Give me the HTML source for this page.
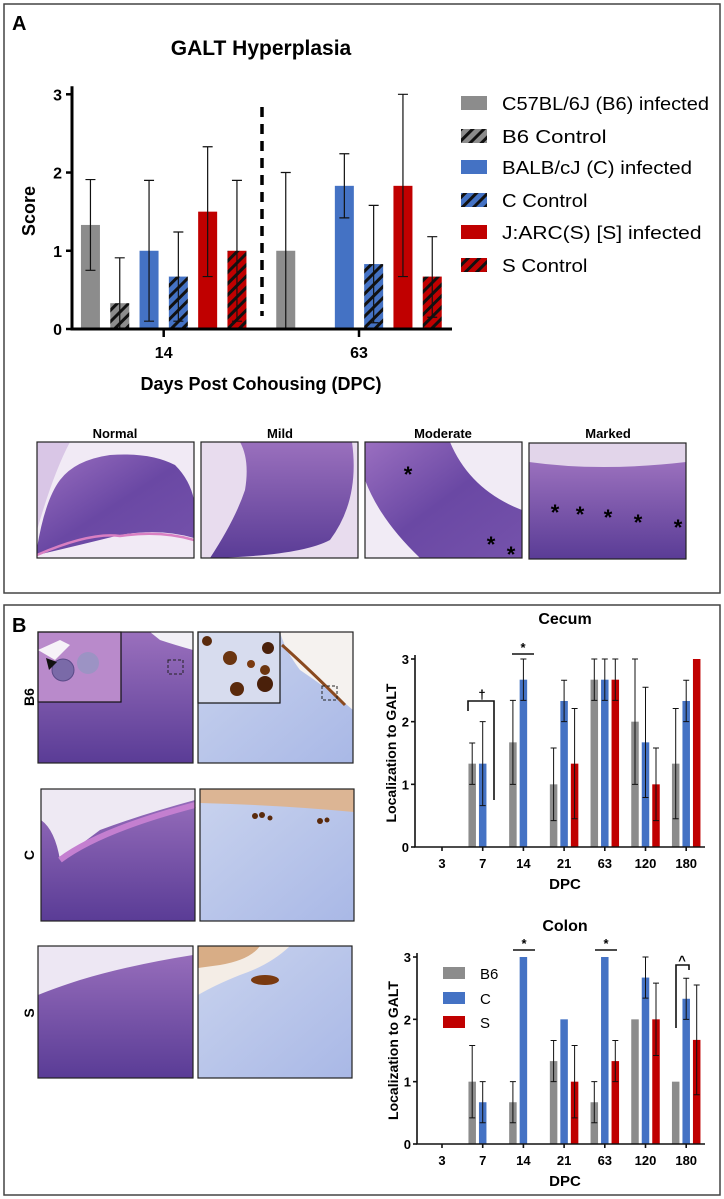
<!DOCTYPE html>
<html><head><meta charset="utf-8"><style>
html,body{margin:0;padding:0;background:#fff;}
svg{display:block;font-family:"Liberation Sans",Arial,sans-serif;}
</style></head><body>
<svg id="fig" width="724" height="1199" viewBox="0 0 724 1199" xmlns="http://www.w3.org/2000/svg">
<defs>
<pattern id="hatchGray" patternUnits="userSpaceOnUse" width="8" height="8" patternTransform="rotate(45)"><rect width="8" height="8" fill="#8c8c8c"/><rect width="3" height="8" fill="#111"/></pattern>
<pattern id="hatchBlue" patternUnits="userSpaceOnUse" width="8" height="8" patternTransform="rotate(45)"><rect width="8" height="8" fill="#4472c4"/><rect width="3" height="8" fill="#111"/></pattern>
<pattern id="hatchRed" patternUnits="userSpaceOnUse" width="8" height="8" patternTransform="rotate(45)"><rect width="8" height="8" fill="#c00000"/><rect width="3" height="8" fill="#111"/></pattern>
<linearGradient id="he1" x1="0" y1="0" x2="1" y2="1"><stop offset="0" stop-color="#9a6fc0"/><stop offset="0.5" stop-color="#6a48a4"/><stop offset="1" stop-color="#7552ab"/></linearGradient>
<linearGradient id="he2" x1="0" y1="0" x2="0" y2="1"><stop offset="0" stop-color="#9a70bd"/><stop offset="1" stop-color="#5a3c96"/></linearGradient>
<linearGradient id="ihc" x1="0" y1="0" x2="1" y2="1"><stop offset="0" stop-color="#c9d3ee"/><stop offset="1" stop-color="#a9b8e6"/></linearGradient>
</defs>
<rect x="4" y="4" width="716" height="589" fill="none" stroke="#444" stroke-width="1.5"/>
<rect x="4" y="605" width="716" height="590" fill="none" stroke="#444" stroke-width="1.5"/>
<text x="12" y="30" font-size="20" font-weight="bold">A</text>
<text x="12" y="632" font-size="20" font-weight="bold">B</text>
<text x="261" y="55" font-size="21" font-weight="bold" text-anchor="middle">GALT  Hyperplasia</text>

<g id="chartA"></g>
<g id="legendA"></g>

<g>
<text x="115" y="438" font-size="13" font-weight="bold" text-anchor="middle">Normal</text>
<text x="280" y="438" font-size="13" font-weight="bold" text-anchor="middle">Mild</text>
<text x="443" y="438" font-size="13" font-weight="bold" text-anchor="middle">Moderate</text>
<text x="608" y="438" font-size="13" font-weight="bold" text-anchor="middle">Marked</text>
<g>
<rect x="37" y="442" width="157" height="116" fill="#f1eaf5"/>
<path d="M37,548 Q45,500 60,480 Q75,460 110,455 Q150,452 175,465 Q190,480 194,500 L194,538 Q160,528 120,535 Q80,545 37,555Z" fill="url(#he1)"/>
<path d="M37,442 L70,442 Q55,470 40,520 L37,530Z" fill="#d9c6e6"/>
<path d="M37,555 Q90,532 120,536 Q160,530 194,540" stroke="#d97fc2" stroke-width="2.5" fill="none"/>
<rect x="37" y="442" width="157" height="116" fill="none" stroke="#222" stroke-width="1.2"/></g>
<g>
<rect x="201" y="442" width="157" height="116" fill="#e8dcee"/>
<path d="M240,442 L352,442 Q360,500 330,540 Q300,556 210,558 Q235,520 245,490 Q250,460 240,442Z" fill="url(#he2)"/>
<rect x="201" y="442" width="157" height="116" fill="none" stroke="#222" stroke-width="1.2"/></g>
<g>
<rect x="365" y="442" width="157" height="116" fill="#f1ebf5"/>
<path d="M365,442 L450,442 Q470,490 522,510 L522,558 L420,558 Q380,520 365,480Z" fill="url(#he1)"/>
<text x="408" y="482" font-size="22" font-weight="bold" text-anchor="middle">*</text>
<text x="491" y="552" font-size="22" font-weight="bold" text-anchor="middle">*</text>
<text x="511" y="562" font-size="22" font-weight="bold" text-anchor="middle">*</text>
<rect x="365" y="442" width="157" height="116" fill="none" stroke="#222" stroke-width="1.2"/></g>
<g>
<rect x="529" y="443" width="157" height="116" fill="#e2d5ea"/>
<path d="M529,462 Q600,472 686,462 L686,559 L529,559Z" fill="url(#he2)"/>
<text x="555" y="520" font-size="22" font-weight="bold" text-anchor="middle">*</text>
<text x="580" y="522" font-size="22" font-weight="bold" text-anchor="middle">*</text>
<text x="608" y="525" font-size="22" font-weight="bold" text-anchor="middle">*</text>
<text x="638" y="530" font-size="22" font-weight="bold" text-anchor="middle">*</text>
<text x="678" y="535" font-size="22" font-weight="bold" text-anchor="middle">*</text>
<rect x="529" y="443" width="157" height="116" fill="none" stroke="#222" stroke-width="1.2"/></g>
</g>

<g>
<text transform="translate(34,697) rotate(-90)" font-size="14" font-weight="bold" text-anchor="middle">B6</text>
<text transform="translate(34,855) rotate(-90)" font-size="14" font-weight="bold" text-anchor="middle">C</text>
<text transform="translate(34,1013) rotate(-90)" font-size="14" font-weight="bold" text-anchor="middle">S</text>
<g>
<rect x="38" y="632" width="155" height="131" fill="url(#he2)"/>
<path d="M150,632 L193,632 L193,650 Q175,645 160,640Z" fill="#f2f0f6"/>
<rect x="38" y="632" width="83" height="70" fill="#b98acb" stroke="#111" stroke-width="1.2"/>
<path d="M38,650 L60,640 L70,645 L55,660Z" fill="#f6f2f8"/>
<circle cx="63" cy="670" r="11" fill="#7a6aa8" stroke="#5a4a88"/><circle cx="88" cy="663" r="11" fill="#9c93c4"/>
<path d="M46,658 L57,662 L49,670Z" fill="#111"/>
<rect x="168" y="660" width="15" height="14" fill="none" stroke="#222" stroke-dasharray="3,2"/>
<rect x="38" y="632" width="155" height="131" fill="none" stroke="#222" stroke-width="1.2"/></g>
<g>
<rect x="198" y="632" width="155" height="131" fill="url(#ihc)"/>
<path d="M280,632 L353,632 L353,710 Q330,690 300,670 Q285,650 280,632Z" fill="#f5f2ef"/>
<path d="M282,645 Q310,670 345,705" stroke="#8a4a20" stroke-width="3" fill="none"/>
<rect x="198" y="632" width="82" height="71" fill="#d7dcee" stroke="#111" stroke-width="1.2"/>
<circle cx="207" cy="641" r="5" fill="#5a2a0c"/><circle cx="230" cy="658" r="7" fill="#6b3510"/><circle cx="251" cy="664" r="4" fill="#7a3a10"/>
<circle cx="268" cy="648" r="6" fill="#4a200a"/><circle cx="237" cy="689" r="7" fill="#5a2a0c"/><circle cx="265" cy="684" r="8" fill="#4a200a"/><circle cx="265" cy="670" r="5" fill="#6b3510"/>
<rect x="322" y="686" width="15" height="14" fill="none" stroke="#222" stroke-dasharray="3,2"/>
<rect x="198" y="632" width="155" height="131" fill="none" stroke="#222" stroke-width="1.2"/></g>
<g>
<rect x="41" y="789" width="154" height="132" fill="url(#he2)"/>
<path d="M41,789 L195,789 L195,800 Q140,815 100,830 Q80,845 60,860 Q55,830 41,820Z" fill="#eee9f3"/>
<path d="M60,860 Q100,830 195,805" stroke="#c47fd0" stroke-width="6" fill="none"/>
<rect x="41" y="789" width="154" height="132" fill="none" stroke="#222" stroke-width="1.2"/></g>
<g>
<rect x="200" y="789" width="154" height="132" fill="url(#ihc)"/>
<path d="M200,789 L354,789 L354,812 Q280,805 200,803Z" fill="#dcb594"/>
<circle cx="255" cy="816" r="3" fill="#5a2a0c"/><circle cx="262" cy="815" r="3" fill="#5a2a0c"/><circle cx="270" cy="818" r="2.5" fill="#5a2a0c"/><circle cx="320" cy="821" r="3" fill="#5a2a0c"/><circle cx="327" cy="820" r="2.5" fill="#5a2a0c"/>
<rect x="200" y="789" width="154" height="132" fill="none" stroke="#222" stroke-width="1.2"/></g>
<g>
<rect x="38" y="946" width="155" height="132" fill="url(#he2)"/>
<path d="M38,946 L193,946 L193,955 Q130,965 80,980 Q55,988 38,995Z" fill="#ede7f3"/>
<rect x="38" y="946" width="155" height="132" fill="none" stroke="#222" stroke-width="1.2"/></g>
<g>
<rect x="198" y="946" width="154" height="132" fill="url(#ihc)"/>
<path d="M198,946 L290,946 Q270,965 240,975 Q215,985 198,995Z" fill="#f4ede6"/>
<path d="M198,946 L260,946 Q250,960 220,965 L198,968Z" fill="#d8ad86"/>
<ellipse cx="265" cy="980" rx="14" ry="5" fill="#7a3a10"/>
<rect x="198" y="946" width="154" height="132" fill="none" stroke="#222" stroke-width="1.2"/></g>
</g>

<g id="cecum"></g>
<g id="colon"></g>
</svg>
<script>
const NS="http://www.w3.org/2000/svg";
function mk(parent,tag,attrs,txt){const e=document.createElementNS(NS,tag);for(const k in attrs)e.setAttribute(k,attrs[k]);if(txt!==undefined)e.textContent=txt;parent.appendChild(e);return e;}

const groupsA=["14","63"];
const seriesA=["C57BL/6J (B6) infected","B6  Control","BALB/cJ (C) infected","C Control","J:ARC(S) [S] infected","S Control"];
const valuesA14=[1.33,0.33,1.0,0.67,1.5,1.0];
const lowA14=[0.75,0,0.1,0.1,0.67,0.1];
const highA14=[1.91,0.91,1.9,1.24,2.33,1.9];
const valuesA63=[1.0,null,1.83,0.83,1.83,0.67];
const lowA63=[0,null,1.42,0.08,0.67,0.15];
const highA63=[2.0,null,2.24,1.58,3.0,1.18];
const yTicksA=[0,1,2,3];
const fillsA=["#8c8c8c","url(#hatchGray)","#4472c4","url(#hatchBlue)","#c00000","url(#hatchRed)"];

(function(){
 const g=document.getElementById('chartA');
 const x0=72,xEnd=452,y0=329,yTop=94.3,ymax=3;
 const ys=v=>y0-(v/ymax)*(y0-yTop);
 const groupCenters=[163.7,359];
 const slot=29.3,bw=19;
 const xs=(gi,si)=>groupCenters[gi]+(si-2.5)*slot;
 const vals=[valuesA14,valuesA63],lows=[lowA14,lowA63],highs=[highA14,highA63];
 for(let gi=0;gi<groupsA.length;gi++){
  for(let si=0;si<seriesA.length;si++){
   const v=vals[gi][si]; if(v==null) continue;
   const cx=xs(gi,si);
   const r=mk(g,'rect',{x:cx-bw/2,y:ys(v),width:bw,height:ys(0)-ys(v),fill:fillsA[si]});
   
   
   const lo=lows[gi][si],hi=highs[gi][si];
   const e=mk(g,'path',{d:`M${cx},${ys(lo)}V${ys(hi)}M${cx-5},${ys(hi)}H${cx+5}M${cx-5},${ys(lo)}H${cx+5}`,stroke:'#111','stroke-width':1.2,fill:'none'});
   
   
  }
 }
 const ax=mk(g,'path',{d:`M${x0},${yTop-8}V${y0}H${xEnd}`,stroke:'#000','stroke-width':3,fill:'none'});
 
 
 yTicksA.forEach(t=>{
  mk(g,'line',{x1:x0-6,x2:x0,y1:ys(t),y2:ys(t),stroke:'#000','stroke-width':2.5});
  const tl=mk(g,'text',{x:x0-10,y:ys(t)+6,'font-size':16,'font-weight':'bold','text-anchor':'end'},t);
  
  
 });
 groupsA.forEach((lab,gi)=>{
  mk(g,'line',{x1:groupCenters[gi],x2:groupCenters[gi],y1:y0,y2:y0+8,stroke:'#000','stroke-width':2.5});
  const tl=mk(g,'text',{x:groupCenters[gi],y:358,'font-size':16,'font-weight':'bold','text-anchor':'middle'},lab);
  
  
 });
 const dl=mk(g,'line',{x1:262,x2:262,y1:107,y2:316,stroke:'#000','stroke-width':3.5,'stroke-dasharray':'10,7'});
 
 
 const yt=mk(g,'text',{transform:'translate(35,211) rotate(-90)','font-size':18,'font-weight':'bold','text-anchor':'middle'},'Score');
 
 
 const xt=mk(g,'text',{x:261,y:390,'font-size':18,'font-weight':'bold','text-anchor':'middle'},'Days Post Cohousing (DPC)');
 
 
 const lg=document.getElementById('legendA');
 const rowsY=[103,136,167,200,232,265];
 seriesA.forEach((s,i)=>{
  const sw=mk(lg,'rect',{x:461,y:rowsY[i]-7,width:26,height:14,fill:fillsA[i]});
  
  
  const t=mk(lg,'text',{x:502,y:rowsY[i]+7,'font-size':18,textLength:Math.min(207,s.length*9.5),lengthAdjust:'spacingAndGlyphs'},s);
  
  
 });
})();

const dpcLabels=["3","7","14","21","63","120","180"];
const strains=["B6","C","S"];
const cecumB6=[null,1.33,1.67,1.0,2.67,2.0,1.33];
const cecumB6Err=[null,0.33,0.67,0.58,0.33,1.0,0.88];
const cecumC=[null,1.33,2.67,2.33,2.67,1.67,2.33];
const cecumCErr=[null,0.67,0.33,0.33,0.33,0.88,0.33];
const cecumS=[null,null,null,1.33,2.67,1.0,3.0];
const cecumSErr=[null,null,null,0.88,0.33,0.58,0];
const colonB6=[null,1.0,0.67,1.33,0.67,2.0,1.0];
const colonB6Err=[null,0.58,0.33,0.33,0.33,0,0];
const colonC=[null,0.67,3.0,2.0,3.0,2.67,2.33];
const colonCErr=[null,0.33,0,0,0,0.33,0.33];
const colonS=[null,null,null,1.0,1.33,2.0,1.67];
const colonSErr=[null,null,null,0.58,0.33,0.58,0.88];
const yTicksB=[0,1,2,3];
const colorsB=["#8c8c8c","#4472c4","#c00000"];

function drawB(id,title,titleY,x0,y0,yTop,series,errs,annot){
 const g=document.getElementById(id);
 const xEnd=705,ymax=3;
 const ys=v=>y0-(v/ymax)*(y0-yTop);
 const xc=i=>442+i*40.7;
 const bw=7.5,off=10.5;
 series.forEach((arr,si)=>{
  arr.forEach((v,i)=>{
   if(v==null) return;
   const cx=xc(i)+(si-1)*off;
   const r=mk(g,'rect',{x:cx-bw/2,y:ys(v),width:bw,height:ys(0)-ys(v),fill:colorsB[si]});
   
   
   const e=errs[si][i];
   if(e>0){
    const p=mk(g,'path',{d:`M${cx},${ys(v-e)}V${ys(v+e)}M${cx-3},${ys(v+e)}H${cx+3}M${cx-3},${ys(v-e)}H${cx+3}`,stroke:'#111','stroke-width':1,fill:'none'});
    
    
   }
  });
 });
 const ax=mk(g,'path',{d:`M${x0},${yTop-4}V${y0}H${xEnd}`,stroke:'#111','stroke-width':1.6,fill:'none'});
 
 
 yTicksB.forEach(t=>{
  mk(g,'line',{x1:x0-4,x2:x0,y1:ys(t),y2:ys(t),stroke:'#111','stroke-width':1.6});
  const tl=mk(g,'text',{x:x0-6,y:ys(t)+5,'font-size':13,'font-weight':'bold','text-anchor':'end'},t);
  
  
 });
 dpcLabels.forEach((lab,i)=>{
  mk(g,'line',{x1:xc(i),x2:xc(i),y1:y0,y2:y0+4,stroke:'#111','stroke-width':1.6});
  const tl=mk(g,'text',{x:xc(i),y:y0+21,'font-size':13,'font-weight':'bold','text-anchor':'middle'},lab);
  
  
 });
 const tt=mk(g,'text',{x:565,y:titleY,'font-size':16,'font-weight':'bold','text-anchor':'middle'},title);
 
 
 const xt=mk(g,'text',{x:565,y:y0+42,'font-size':15,'font-weight':'bold','text-anchor':'middle'},'DPC');
 
 
 const yt=mk(g,'text',{transform:`translate(${x0-19},${(y0+yTop)/2}) rotate(-90)`,'font-size':14,'font-weight':'bold','text-anchor':'middle'},'Localization to  GALT');
 
 
 annot(g,xc,ys);
}

drawB('cecum','Cecum',624,415,847,659,[cecumB6,cecumC,cecumS],[cecumB6Err,cecumCErr,cecumSErr],function(g,xc,ys){
 const b=mk(g,'path',{d:'M468,711V701H494V800',stroke:'#111','stroke-width':1.6,fill:'none'});
 
 
 const d=mk(g,'text',{x:482,y:699,'font-size':13,'font-weight':'bold','text-anchor':'middle'},'†');
 
 
 const l=mk(g,'line',{x1:512,x2:534,y1:654,y2:654,stroke:'#111','stroke-width':1.6});
 
 
 const s=mk(g,'text',{x:523,y:652,'font-size':13,'font-weight':'bold','text-anchor':'middle'},'*');
 
 
});
drawB('colon','Colon',931,417,1144,957,[colonB6,colonC,colonS],[colonB6Err,colonCErr,colonSErr],function(g,xc,ys){
 [[513,535],[595,617]].forEach(p=>{
  const l=mk(g,'line',{x1:p[0],x2:p[1],y1:950,y2:950,stroke:'#111','stroke-width':1.6});
  
  
  const s=mk(g,'text',{x:(p[0]+p[1])/2,y:948,'font-size':13,'font-weight':'bold','text-anchor':'middle'},'*');
  
  
 });
 const b=mk(g,'path',{d:'M676,1028V965H689V970',stroke:'#111','stroke-width':1.6,fill:'none'});
 
 
 const c=mk(g,'text',{x:682,y:965,'font-size':13,'font-weight':'bold','text-anchor':'middle'},'^');
 
 
 const ly=[973,998,1022];
 strains.forEach((s,i)=>{
  const r=mk(g,'rect',{x:443,y:ly[i]-6,width:22,height:12,fill:colorsB[i]});
  
  
  const t=mk(g,'text',{x:480,y:ly[i]+6,'font-size':15},s);
  
  
 });
});
</script>
</body></html>
